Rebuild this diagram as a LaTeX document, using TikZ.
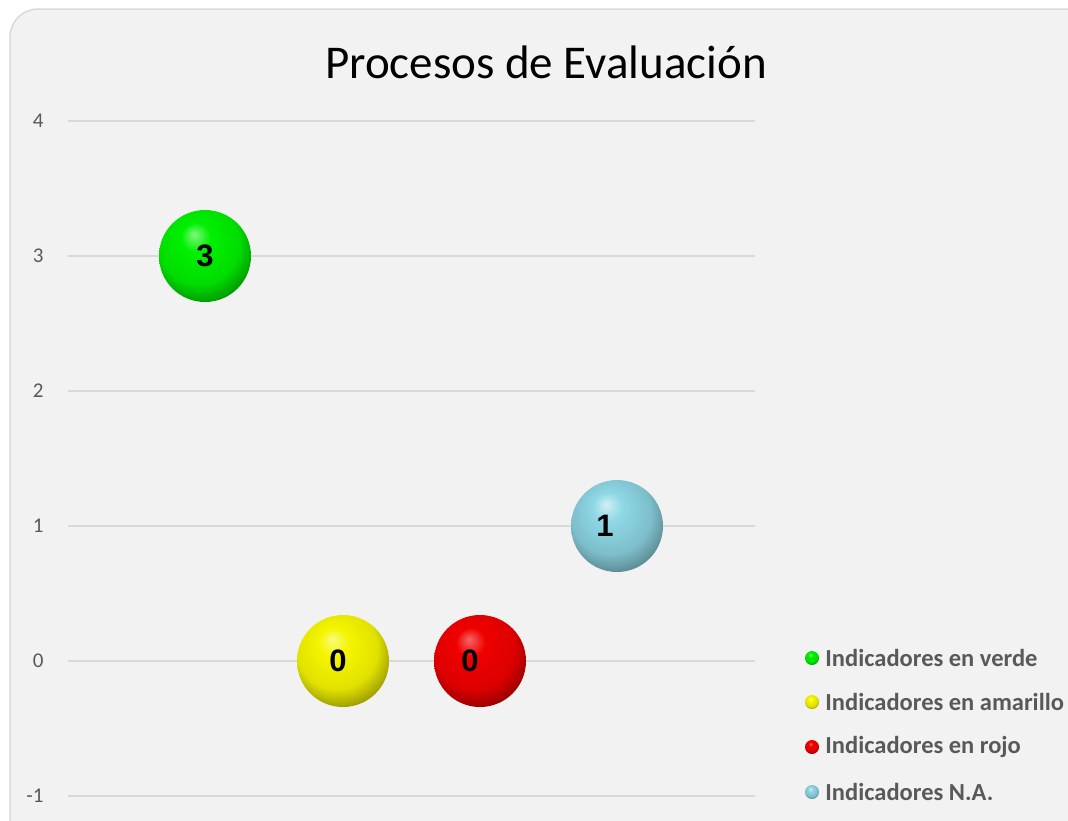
\documentclass[tikz,border=0pt]{standalone}
\usepackage{fontspec}
\setmainfont{Carlito}
\newfontfamily\arialfont{Liberation Sans}
\usetikzlibrary{positioning}

\definecolor{fondo}{HTML}{F2F2F2}
\definecolor{borde}{HTML}{D9D9D9}
\definecolor{rejilla}{HTML}{D9D9D9}
\definecolor{gristexto}{HTML}{595959}
\definecolor{cverde}{HTML}{00F000}
\definecolor{camarillo}{HTML}{F5F500}
\definecolor{crojo}{HTML}{F00000}
\definecolor{cna}{HTML}{8ED8E6}

% Esferas
\pgfdeclareradialshading{esferaverde}{\pgfpoint{-6bp}{12bp}}{color(0bp)=(cverde!50!white); color(8bp)=(cverde); color(22bp)=(cverde!92!black); color(30bp)=(cverde!65!black); color(36bp)=(cverde!40!black); color(42bp)=(cverde!75!black); color(50bp)=(cverde)}
\pgfdeclareradialshading{esferaamarillo}{\pgfpoint{-6bp}{12bp}}{color(0bp)=(camarillo!50!white); color(8bp)=(camarillo); color(22bp)=(camarillo!92!black); color(30bp)=(camarillo!65!black); color(36bp)=(camarillo!40!black); color(42bp)=(camarillo!75!black); color(50bp)=(camarillo)}
\pgfdeclareradialshading{esferarojo}{\pgfpoint{-6bp}{12bp}}{color(0bp)=(crojo!60!white); color(8bp)=(crojo); color(22bp)=(crojo!92!black); color(30bp)=(crojo!65!black); color(36bp)=(crojo!40!black); color(42bp)=(crojo!75!black); color(50bp)=(crojo)}
\pgfdeclareradialshading{esferana}{\pgfpoint{-6bp}{12bp}}{color(0bp)=(cna!40!white); color(8bp)=(cna); color(22bp)=(cna!88!black); color(30bp)=(cna!65!black); color(36bp)=(cna!45!black); color(42bp)=(cna!75!black); color(50bp)=(cna)}

\tikzset{
  burbuja/.style={circle, minimum size=92pt, inner sep=0pt},
  valor/.style={inner sep=0pt, font=\arialfont\bfseries\fontsize{31}{31}\selectfont},
  marca/.style={circle, minimum size=14pt, inner sep=0pt},
  leyenda/.style={inner sep=0pt, text=gristexto,
    font=\bfseries\fontsize{24.5}{24.5}\selectfont},
  eje/.style={anchor=east, text=gristexto, font=\fontsize{21}{21}\selectfont},
}

\begin{document}
\begin{tikzpicture}[x=1pt,y=-1pt]
  \useasboundingbox (0,0) rectangle (1068,820);
  \clip (0,0) rectangle (1068,820);

  % Fondo
  \draw[fill=fondo, draw=borde, line width=1.5pt, rounded corners=28pt]
    (10,9) rectangle (1100,860);

  % Titulo
  \node[font=\fontsize{47}{47}\selectfont] (titulo) at (546,62) {Procesos de Evaluación};

  % Rejilla y eje
  \foreach \v in {4,3,2,1,0,-1}{
    \draw[rejilla, line width=1.2pt] (68,661-135*\v) -- (755,661-135*\v);
    \node[eje] (e\v) at (47,661-135*\v) {\v};
  }

  % Burbujas
  \node[burbuja, shading=esferaverde] (verde) at (205,256) {};
  \node[burbuja, shading=esferaamarillo] (amarillo) at (343,661) {};
  \node[burbuja, shading=esferarojo] (rojo) at (480,661) {};
  \node[burbuja, shading=esferana] (na) at (617,526) {};

  % Valores
  \node[valor] (vverde) at (verde) {3};
  \node[valor] (vamarillo) at ([xshift=-5pt]amarillo.center) {0};
  \node[valor] (vrojo) at ([xshift=-10pt]rojo.center) {0};
  \node[valor] (vna) at ([xshift=-12pt]na.center) {1};

  % Leyenda
  \node[marca, shading=esferaverde] (mverde) at (812,658) {};
  \node[leyenda, right=6pt of mverde] (lverde) {Indicadores en verde};
  \node[marca, shading=esferaamarillo] (mamarillo) at (812,702) {};
  \node[leyenda, right=6pt of mamarillo] (lamarillo) {Indicadores en amarillo};
  \node[marca, shading=esferarojo] (mrojo) at (812,747) {};
  \node[leyenda, right=6pt of mrojo] (lrojo) {Indicadores en rojo};
  \node[marca, shading=esferana] (mna) at (812,792) {};
  \node[leyenda, right=6pt of mna] (lna) {Indicadores N.A.};
\end{tikzpicture}
\end{document}
